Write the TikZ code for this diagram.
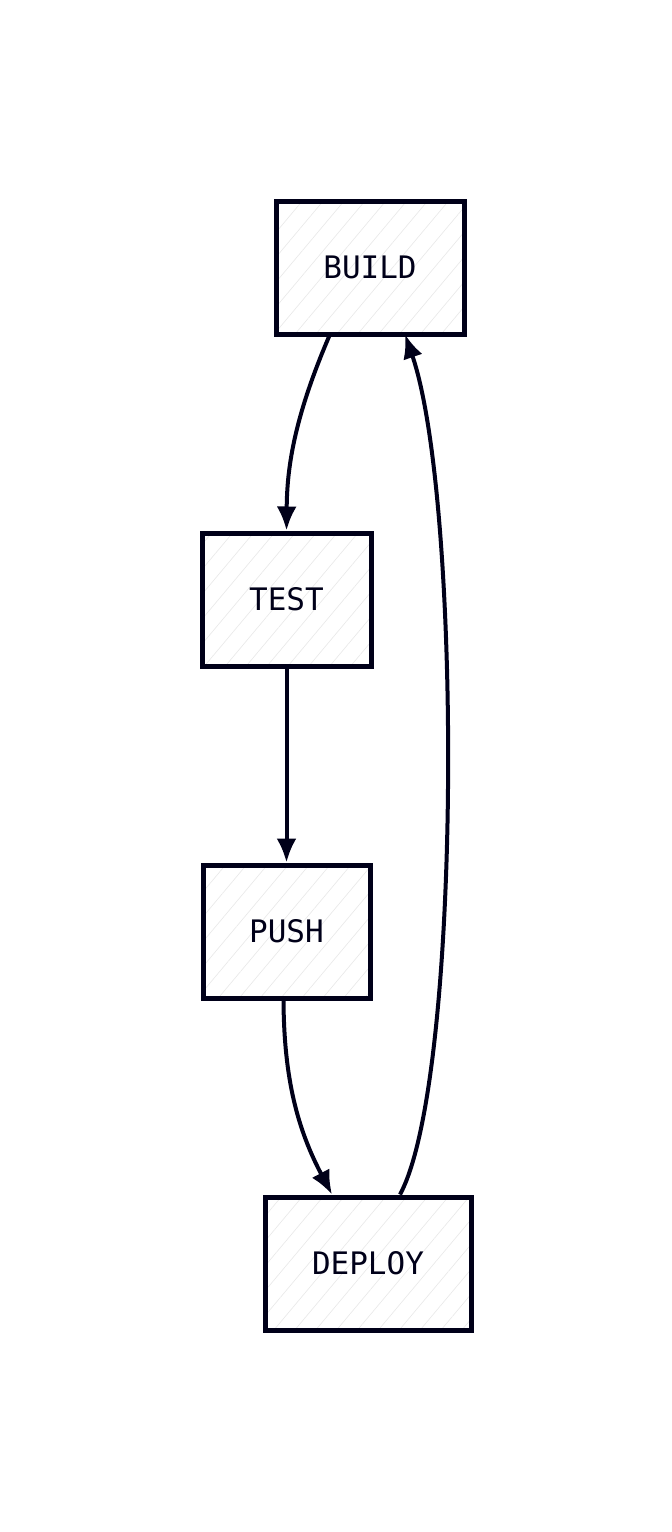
\documentclass[tikz,border=0pt]{standalone}
\usepackage{fontspec}
\setmonofont{DejaVu Sans Mono}
\usetikzlibrary{arrows.meta,patterns.meta}

\begin{document}
\begin{tikzpicture}[x=1pt, y=-1pt]
				\tikzstyle{every node}=[inner sep=1pt, align=center, font=\ttfamily\fontsize{31}{33}\selectfont, text=black!90!blue]
				\tikzstyle{stage}=[draw=black!90!blue, line width=5pt, preaction={fill=white}, pattern={Lines[distance=16pt, angle=50, line width=0.6pt]}, pattern color=black!9, minimum height=133pt]
				\tikzstyle{flow}=[draw=black!90!blue, line width=4pt, -{Latex[length=24pt, width=20pt]}]
				\useasboundingbox (0, 0) rectangle (672, 1532);
				\node[stage, minimum width=188pt] (build) at (370, 267.5) {BUILD};
				\node[stage, minimum width=169pt] (test) at (286.5, 599.5) {TEST};
				\node[stage, minimum width=167pt] (push) at (286.5, 931.5) {PUSH};
				\node[stage, minimum width=206pt] (deploy) at (368, 1263.5) {DEPLOY};
				\draw [flow] ([xshift=-40pt]build.south) .. controls (293, 420) and (287, 470) .. (test.north);
				\draw [flow] (test.south) -- (push.north);
				\draw [flow] ([xshift=-3pt]push.south) .. controls (284, 1080) and (298, 1130) .. ([xshift=-36pt]deploy.north);
				\draw [flow] ([xshift=32pt]deploy.north) .. controls (462, 1080) and (462, 500) .. ([xshift=35pt]build.south);
		\end{tikzpicture}
\end{document}
